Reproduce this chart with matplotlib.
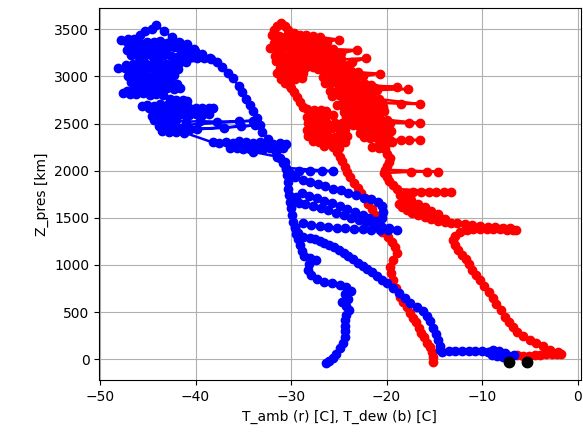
import numpy as np
import matplotlib
matplotlib.use("Agg")
import matplotlib.pyplot as plt

# ---------------- T_amb (red) ----------------
amb_surface_t = [-6.3, -5.7, -5.1, -4.5, -3.9, -3.3, -2.7, -2.1, -1.7, -2.0]
amb_surface_z = [40, 30, 35, 40, 45, 50, 55, 55, 50, 80]

amb_rise_t = [-2.9, -3.6, -4.3, -5.0, -5.7, -6.3, -6.8, -7.2, -7.6, -8.0, -8.5, -8.9, -9.3,
              -9.8, -10.2, -10.6, -11.0, -11.4, -11.7, -12.1, -12.5, -12.85, -13.0, -12.8]
amb_rise_z = [100, 140, 175, 205, 250, 290, 340, 395, 450, 520, 590, 650, 710,
              775, 840, 895, 950, 1010, 1060, 1110, 1160, 1210, 1260, 1310]

amb_mid_t = [-12.3, -11.6, -10.9, -10.2, -9.5, -8.8, -8.1, -7.4, -6.8, -6.4, -7.1, -7.8, -8.6,
             -9.4, -10.2, -11.0, -11.8, -12.6, -13.3, -13.9,
             -14.6, -15.3, -16.0, -16.7, -17.3, -17.9, -18.4, -18.7, -18.0, -17.3, -16.6,
             -15.9, -15.2, -14.5, -13.9, -14.6, -15.3, -16.0, -16.7, -17.4, -18.1, -18.6,
             -18.0, -17.2, -16.4, -15.6, -14.8, -14.0, -13.3, -18.9,
             -19.3, -19.7, -20.0, -20.3, -17.4, -15.8, -14.6, -20.2, -20.0, -19.7, -19.6,
             -19.9, -20.2]
amb_mid_z = [1345, 1370, 1380, 1385, 1382, 1378, 1376, 1373, 1370, 1368, 1388, 1395, 1400,
             1405, 1412, 1420, 1430, 1440, 1450, 1460,
             1470, 1485, 1505, 1525, 1550, 1580, 1615, 1650, 1645, 1615, 1585,
             1555, 1530, 1505, 1485, 1540, 1575, 1610, 1650, 1690, 1720, 1745,
             1765, 1772, 1776, 1778, 1776, 1775, 1775, 1805,
             1850, 1895, 1935, 1975, 1988, 1990, 1990, 2010, 2055, 2095, 2135,
             2180, 2225]

amb_upper_t = [-20.8, -21.5, -20.8, -20.1, -19.4, -18.5, -17.6, -16.5, -19.6,
               -20.3, -21.0, -21.7, -22.4,
               -22.8, -22.1, -21.4, -20.7, -20.0, -19.5,
               -20.1, -20.8, -21.5, -22.2, -22.9, -23.5,
               -23.0, -22.3, -21.6, -20.9, -20.2, -19.6, -17.6, -16.5, -20.0,
               -20.7, -21.4, -22.1, -22.8, -23.5, -24.2,
               -24.5, -23.8, -23.1, -22.4, -21.7, -21.0, -20.3,
               -20.4, -21.1, -21.8, -22.5, -23.2, -23.9, -24.6, -25.2,
               -24.6, -23.9, -23.2, -22.5, -21.8, -21.1, -20.5, -18.5, -16.5, -20.8,
               -21.5, -22.2, -22.9, -23.6, -24.3, -25.0, -25.7,
               -25.9, -25.2, -24.5, -23.8, -23.1, -22.4, -21.7, -21.0, -17.8, -21.2, -18.9, -21.6,
               -22.3, -23.0, -23.7, -24.4, -25.1, -25.8, -26.4,
               -26.7, -26.0, -25.3, -24.6, -23.9, -23.2, -22.5, -20.7, -23.0,
               -23.7, -24.4, -25.1, -25.8, -26.5, -27.2,
               -27.5, -26.8, -26.1, -25.4, -24.7, -24.0, -23.6, -22.1, -24.8,
               -25.5, -26.2, -26.9, -27.6, -28.2,
               -28.4, -27.7, -26.9, -26.2, -25.5, -24.8, -23.1, -25.6,
               -26.3, -27.0, -27.7, -28.4,
               -28.3, -27.6, -26.9, -26.2, -25.0, -27.0,
               -27.7, -28.4, -29.1, -29.7]
amb_upper_z = [2245, 2255, 2275, 2285, 2300, 2325, 2325, 2325, 2330,
               2340, 2345, 2350, 2360,
               2400, 2410, 2405, 2415, 2410, 2420,
               2460, 2470, 2465, 2475, 2470, 2480,
               2500, 2510, 2505, 2515, 2505, 2510, 2505, 2505, 2540,
               2550, 2560, 2555, 2565, 2560, 2570,
               2620, 2615, 2625, 2615, 2625, 2620, 2630,
               2680, 2675, 2685, 2675, 2685, 2680, 2690, 2700,
               2725, 2735, 2725, 2735, 2725, 2735, 2720, 2710, 2707, 2760,
               2780, 2790, 2785, 2795, 2790, 2800, 2795,
               2850, 2845, 2855, 2845, 2855, 2850, 2860, 2855, 2866, 2880, 2890, 2905,
               2915, 2925, 2915, 2925, 2920, 2930, 2935,
               2990, 2985, 2995, 2985, 2995, 2990, 3000, 3030, 3045,
               3055, 3065, 3060, 3070, 3065, 3075,
               3120, 3115, 3125, 3115, 3125, 3120, 3150, 3195, 3180,
               3175, 3185, 3180, 3190, 3185,
               3240, 3235, 3245, 3240, 3250, 3245, 3280, 3290,
               3300, 3310, 3305, 3315,
               3370, 3365, 3375, 3370, 3390, 3420,
               3430, 3440, 3445, 3460]

amb_top_t = [-30.3, -30.6, -31.0, -31.5, -31.8, -32.0, -31.3, -30.6, -29.9, -29.2,
             -29.0, -29.7, -30.4, -31.1, -31.8, -32.2, -31.5, -30.8, -30.1, -29.4, -28.7, -28.0,
             -28.2, -28.9, -29.6, -30.3, -31.0, -31.7, -31.6, -30.9, -30.2, -29.5, -28.8, -28.1,
             -27.7, -28.4, -29.1, -29.8, -30.5, -31.2, -31.5, -30.8, -30.1, -29.4, -28.7,
             -28.9, -29.6, -30.3, -31.0, -30.6, -30.1]
amb_top_z = [3490, 3540, 3564, 3530, 3490, 3440, 3430, 3420, 3410, 3395,
             3350, 3355, 3360, 3350, 3360, 3300, 3290, 3300, 3290, 3295, 3285, 3280,
             3230, 3225, 3235, 3220, 3230, 3220, 3160, 3165, 3155, 3165, 3150, 3160,
             3100, 3095, 3105, 3090, 3100, 3090, 3040, 3030, 3040, 3025, 3035,
             2980, 2975, 2985, 2970, 2930, 2900]

amb_fall_t = [-30.0, -29.7, -29.4, -29.1, -28.7,
              -28.3, -27.6, -26.9, -26.3,
              -25.6, -26.3, -27.0, -27.7, -28.3,
              -28.2, -27.5, -26.8, -26.1, -25.4, -24.7, -24.1,
              -24.3, -25.0, -25.7, -26.4, -27.1, -27.8, -28.3,
              -28.2, -27.5, -26.8, -26.1, -25.4, -24.7, -24.1,
              -24.3, -25.0, -25.7, -26.4, -27.1, -27.7,
              -26.5, -25.6, -25.0,
              -25.2, -24.9, -24.7, -24.4, -24.1, -23.8, -23.4, -23.0, -22.7, -22.3, -21.9,
              -21.5, -21.2, -21.0, -20.9, -20.5, -19.8, -19.4, -19.1, -18.9, -19.3, -19.6,
              -19.5, -19.3, -19.0, -18.6, -18.3, -17.9, -17.5, -17.2, -16.9, -16.6, -16.4,
              -16.1, -15.8, -15.5, -15.2, -15.1, -15.1]
amb_fall_z = [2880, 2830, 2780, 2730, 2680,
              2650, 2640, 2645, 2635,
              2590, 2580, 2585, 2575, 2570,
              2510, 2505, 2515, 2500, 2510, 2505, 2495,
              2445, 2440, 2450, 2435, 2445, 2440, 2430,
              2370, 2375, 2365, 2370, 2360, 2375, 2365,
              2300, 2295, 2305, 2290, 2300, 2310,
              2265, 2255, 2245,
              2200, 2150, 2100, 2040, 1985, 1930, 1870, 1815, 1760, 1705, 1645,
              1590, 1530, 1470, 1410, 1350, 1300, 1245, 1185, 1125, 1050, 980,
              910, 840, 750, 660, 610, 550, 490, 440, 390, 330, 280,
              230, 175, 125, 75, 25, -30]

# ---------------- T_dew (blue) ----------------
dew_surface_t = [-6.6, -7.2, -7.8, -8.4, -9.0, -9.4, -8.8, -8.2, -7.6, -8.5, -9.3, -10.0,
                 -10.7, -11.4, -12.1, -12.8, -13.5, -14.2]
dew_surface_z = [40, 30, 25, 35, 45, 80, 95, 85, 70, 65, 75, 90, 85, 90, 85, 90, 85, 80]

dew_rise_t = [-14.4, -14.4, -14.6, -14.8, -15.1, -15.4, -15.8, -16.2, -16.8, -17.5, -18.1,
              -18.7, -19.3, -20.0, -20.5, -21.0, -21.5, -22.0, -22.5, -23.0, -23.5, -24.0,
              -24.5, -25.0, -25.5, -26.0, -26.5, -27.0, -27.5, -28.0, -28.7]
dew_rise_z = [100, 140, 200, 265, 330, 400, 460, 510, 555, 600, 650,
              705, 755, 807, 845, 883, 920, 955, 990, 1025, 1060, 1095,
              1125, 1155, 1185, 1210, 1233, 1253, 1270, 1282, 1295]

dew_mid_t = [-29.3, -29.6, -28.8, -27.9, -27.0, -26.1, -25.2, -24.3, -23.4, -22.5, -21.6,
             -20.7, -19.8, -18.9,
             -19.7, -20.5, -21.3, -22.1, -22.9, -23.7, -24.5, -25.3, -26.1, -26.9, -27.7,
             -28.5, -29.2, -29.7,
             -29.5, -28.9, -28.1, -27.3, -26.5, -25.7, -24.9, -24.1, -23.3, -22.5, -21.8,
             -21.2, -20.8,
             -20.5, -20.4, -20.5, -20.9, -21.6, -22.4, -23.2, -24.0, -24.8, -25.6, -26.4,
             -27.2, -28.0, -28.8, -29.6,
             -30.1, -29.2, -28.0, -26.8, -25.6, -30.5, -30.8, -31.2]
dew_mid_z = [1340, 1400, 1440, 1428, 1416, 1404, 1396, 1390, 1384, 1379, 1375,
             1372, 1370, 1370,
             1388, 1405, 1428, 1452, 1478, 1503, 1528, 1553, 1578, 1600, 1622,
             1642, 1660, 1680,
             1725, 1760, 1735, 1708, 1680, 1652, 1622, 1592, 1562, 1530, 1500,
             1470, 1430,
             1500, 1560, 1620, 1670, 1695, 1715, 1740, 1765, 1790, 1810, 1835,
             1860, 1880, 1905, 1930,
             1975, 1995, 1995, 1995, 1995, 2030, 2080, 2134]

dew_arm_t = [-31.6, -31.9, -32.4, -33.0, -33.3, -33.6, -34.0, -34.3, -34.7, -35.1, -35.5,
             -36.1, -36.6, -37.2, -37.8, -38.5, -39.3, -40.1, -40.9, -41.7, -42.5, -43.3,
             -44.1, -44.6]
dew_arm_z = [2200, 2272, 2340, 2410, 2480, 2558, 2630, 2696, 2765, 2832, 2900,
             2980, 3040, 3100, 3153, 3200, 3235, 3270, 3310, 3369, 3420, 3480,
             3546, 3500]

dew_blob_t = [-45.3, -45.8,
              -46.4, -47.1, -47.8, -47.2, -46.5, -45.8, -45.1, -44.4, -43.7, -43.0, -42.3, -41.6, -40.9,
              -40.2, -40.9, -41.6, -42.3, -43.0, -43.7, -44.4, -45.1, -45.8, -46.5, -47.2,
              -46.8, -46.1, -45.4, -44.7, -44.0, -43.3, -42.6, -41.9, -41.2, -40.5, -39.8, -39.1, -38.4,
              -41.0, -41.7, -42.4, -43.1, -43.8, -44.5, -45.2, -45.9, -46.6, -47.3,
              -48.1, -47.4, -46.7, -46.0, -45.3, -44.6, -43.9, -43.2, -42.5, -41.8,
              -42.3, -43.0, -43.7, -44.4, -45.1, -45.8, -46.5, -47.1,
              -46.8, -46.1, -45.4, -44.7, -44.0, -43.3, -42.6, -41.9,
              -41.6, -42.3, -43.0, -43.7, -44.4, -45.1, -45.8, -46.5, -47.2,
              -47.6, -46.9, -46.2, -45.5, -44.8, -44.1, -43.4,
              -42.7, -42.0, -41.3, -40.9,
              -41.6, -42.3, -43.0, -43.7, -44.4, -45.1, -45.6,
              -44.9, -44.2, -43.5, -42.8, -42.1, -41.4, -40.7, -40.0, -39.3, -38.6, -38.2,
              -38.6, -39.3, -40.0, -40.7, -41.4, -42.1, -42.8, -43.5, -44.2, -44.6,
              -44.4, -43.6, -42.8, -42.0, -41.0, -39.5, -37.8, -35.5, -34.0,
              -43.8, -43.0, -42.2, -41.4, -40.6, -39.8, -37.0, -35.2, -33.8,
              -43.5, -42.8, -42.0, -41.2, -38.2,
              -37.5, -36.8, -36.1, -35.4, -34.7, -34.0, -33.3, -32.6, -31.9, -31.2, -30.5,
              -30.8, -31.5, -32.2, -32.9, -33.6, -34.3, -35.0, -35.7, -36.4,
              -34.0, -31.5]
dew_blob_z = [3480, 3440,
              3400, 3395, 3385, 3370, 3365, 3360, 3370, 3365, 3375, 3360, 3355, 3350, 3340,
              3290, 3300, 3295, 3310, 3300, 3290, 3305, 3295, 3300, 3290, 3280,
              3230, 3225, 3220, 3230, 3215, 3225, 3220, 3210, 3220, 3215, 3200, 3195, 3190,
              3150, 3140, 3145, 3135, 3150, 3140, 3130, 3145, 3135, 3125,
              3090, 3085, 3080, 3090, 3075, 3085, 3080, 3070, 3080, 3075,
              3010, 3020, 3005, 3015, 3000, 3010, 3020, 3005,
              2945, 2935, 2950, 2940, 2930, 2945, 2935, 2925,
              2875, 2865, 2880, 2870, 2860, 2875, 2865, 2855, 2850,
              2824, 2815, 2810, 2820, 2805, 2815, 2800,
              2760, 2750, 2745, 2735,
              2700, 2710, 2695, 2705, 2690, 2700, 2690,
              2660, 2670, 2665, 2675, 2665, 2670, 2660, 2670, 2665, 2660, 2665,
              2600, 2595, 2605, 2590, 2600, 2595, 2605, 2590, 2600, 2580,
              2540, 2530, 2525, 2535, 2520, 2525, 2520, 2525, 2530,
              2470, 2460, 2455, 2450, 2445, 2440, 2455, 2470, 2480,
              2420, 2415, 2410, 2405, 2300,
              2290, 2305, 2295, 2310, 2300, 2290, 2305, 2295, 2285, 2295, 2280,
              2240, 2235, 2245, 2230, 2240, 2235, 2225, 2240, 2236,
              2200, 2150]

dew_fall_t = [-30.6, -30.5, -30.4, -30.3, -30.3, -30.2, -30.1, -30.0, -29.9, -29.8, -29.6,
              -29.5, -29.3, -29.1, -28.9, -28.6, -28.0, -27.4, -28.1, -28.2, -27.9, -27.3,
              -26.5, -25.7, -24.9, -24.2, -23.7, -24.3, -24.0, -24.7, -24.2, -23.9, -24.2,
              -24.4, -24.4, -24.4, -24.4, -24.6, -24.9, -25.3, -25.6, -26.0, -26.3]
dew_fall_z = [2090, 2020, 1950, 1880, 1810, 1740, 1670, 1600, 1530, 1460, 1390,
              1330, 1270, 1210, 1150, 1100, 1070, 1050, 1010, 950, 890, 850,
              820, 805, 790, 765, 720, 690, 640, 605, 565, 525, 470,
              415, 355, 295, 235, 175, 115, 60, 15, -15, -40]

# ground values (black dots)
ground_t = [-7.2, -5.3]
ground_z = [-29, -29]

t_amb = np.concatenate([amb_surface_t, amb_rise_t, amb_mid_t, amb_upper_t, amb_top_t, amb_fall_t])
z_amb = np.concatenate([amb_surface_z, amb_rise_z, amb_mid_z, amb_upper_z, amb_top_z, amb_fall_z])
t_dew = np.concatenate([dew_surface_t, dew_rise_t, dew_mid_t, dew_arm_t, dew_blob_t, dew_fall_t])
z_dew = np.concatenate([dew_surface_z, dew_rise_z, dew_mid_z, dew_arm_z, dew_blob_z, dew_fall_z])

fig = plt.figure(figsize=(5.83, 4.37), dpi=100)
ax = fig.add_axes([0.170, 0.130, 0.826, 0.851])
ax.plot(t_amb, z_amb, 'o-', color='red', markersize=6, linewidth=1.8)
ax.plot(t_dew, z_dew, 'o-', color='blue', markersize=6, linewidth=1.8)
ax.plot(ground_t, ground_z, 'o', color='black', markersize=7.5)

ax.set_xlim(-50.1, 0.33)
ax.set_ylim(-223, 3723)
ax.set_xticks([-50, -40, -30, -20, -10, 0])
ax.set_yticks([0, 500, 1000, 1500, 2000, 2500, 3000, 3500])
ax.grid(True)
ax.set_xlabel('T_amb (r) [C], T_dew (b) [C]')
ax.set_ylabel('Z_pres [km]')

fig.savefig('out.png', dpi=100)
